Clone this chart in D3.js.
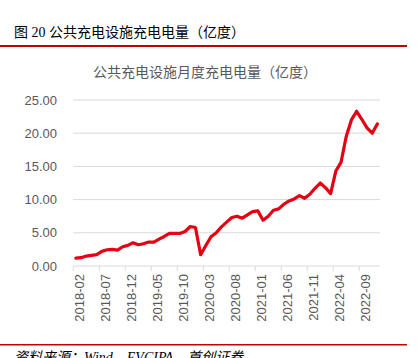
<!DOCTYPE html>
<html><head><meta charset="utf-8">
<script src="https://cdn.jsdelivr.net/npm/d3@7"></script>
<style>html,body{margin:0;padding:0;background:#fff;}svg{display:block;}</style>
</head><body>
<script>
const startMonth = "2018-02";
const monthCount = 59;
const values = [1.2,1.25,1.5,1.6,1.7,2.2,2.45,2.5,2.4,2.9,3.1,3.5,3.2,3.35,3.6,3.6,4.05,4.45,4.9,4.9,
  4.9,5.2,5.95,5.8,1.7,3.1,4.4,5.0,5.9,6.6,7.3,7.5,7.2,7.7,8.2,8.3,6.9,7.5,8.4,8.6,
  9.3,9.8,10.1,10.6,10.2,10.8,11.7,12.5,11.8,10.9,14.3,15.6,19.5,22.0,23.3,22.1,20.8,20.0,21.4];
const yTicks = [0,5,10,15,20,25];
const figTitle = "图 20 公共充电设施充电电量（亿度）";
const chartTitle = "公共充电设施月度充电电量（亿度）";
const sourceText = "资料来源：Wind，EVCIPA，首创证券";

const [sy, sm] = startMonth.split("-").map(Number);
const categories = d3.range(monthCount).map(i => {
  const t = (sy*12 + sm - 1) + i;
  return Math.floor(t/12) + "-" + String(t%12 + 1).padStart(2,"0");
});

const W = 417, H = 358;
const svg = d3.select("body").append("svg").attr("width", W).attr("height", H);

// header
svg.append("text").attr("x", 14).attr("y", 37)
  .attr("font-family", "'Liberation Serif','Noto Sans CJK SC',serif")
  .attr("font-size", 14).attr("fill", "#000").text(figTitle);
svg.append("rect").attr("x", 0).attr("y", 45).attr("width", 407).attr("height", 2).attr("fill", "#c00000");

// footer
svg.append("rect").attr("x", 0).attr("y", 344).attr("width", 407).attr("height", 1.5).attr("fill", "#c00000");
svg.append("text").attr("x", 14).attr("y", 362)
  .attr("font-family", "'Liberation Serif','Noto Sans CJK SC',serif")
  .attr("font-style", "italic").attr("font-size", 14).attr("fill", "#000").text(sourceText);

// chart title
svg.append("text").attr("x", 205).attr("y", 77).attr("text-anchor", "middle")
  .attr("font-family", "'Noto Sans CJK SC',sans-serif").attr("font-size", 14)
  .attr("fill", "#595959").text(chartTitle);

const x = d3.scaleBand().domain(categories).range([73.3, 380]);
const y = d3.scaleLinear().domain([0, 25]).range([266, 100]);

// gridlines
svg.append("g").selectAll("line").data(yTicks.filter(d => d > 0)).join("line")
  .attr("x1", 73.3).attr("x2", 380).attr("y1", d => y(d)).attr("y2", d => y(d))
  .attr("stroke", "#d9d9d9").attr("stroke-width", 1);

// y labels
svg.append("g").selectAll("text").data(yTicks).join("text")
  .attr("x", 57).attr("y", d => y(d) + 4.5).attr("text-anchor", "end")
  .attr("font-family", "'Liberation Sans',Arial,sans-serif").attr("font-size", 13)
  .attr("fill", "#595959").text(d => d.toFixed(2));

// x axis
svg.append("line").attr("x1", 73.3).attr("x2", 380).attr("y1", y(0)).attr("y2", y(0))
  .attr("stroke", "#d9d9d9").attr("stroke-width", 1);
const tickCats = categories.filter((d, i) => i % 5 === 0);
svg.append("g").selectAll("line").data(tickCats).join("line")
  .attr("x1", d => x(d)).attr("x2", d => x(d)).attr("y1", y(0)).attr("y2", y(0) + 5)
  .attr("stroke", "#d9d9d9").attr("stroke-width", 1);
svg.append("g").selectAll("text").data(tickCats).join("text")
  .attr("transform", d => `translate(${x(d) + x.bandwidth()/2 + 8},${y(0) + 8}) rotate(-90)`)
  .attr("text-anchor", "end")
  .attr("font-family", "'Liberation Sans',Arial,sans-serif").attr("font-size", 13)
  .attr("fill", "#595959").text(d => d);

// line
const line = d3.line().x((d, i) => x(categories[i]) + x.bandwidth()/2).y(d => y(d));
svg.append("path").datum(values).attr("d", line).attr("fill", "none")
  .attr("stroke", "#e60012").attr("stroke-width", 3.2)
  .attr("stroke-linejoin", "round").attr("stroke-linecap", "round");
</script>
</body></html>
